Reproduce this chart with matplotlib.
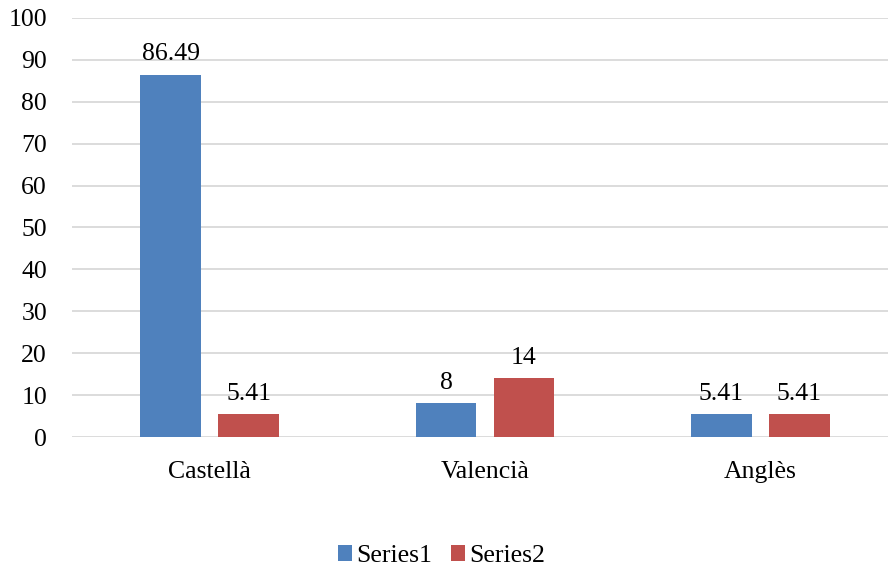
import numpy as np
import matplotlib.pyplot as plt

# data
categories = ['Castellà', 'Valencià', 'Anglès']
series1 = [86.49, 8, 5.41]
series2 = [5.41, 14, 5.41]
labels1 = ['86.49', '8', '5.41']
labels2 = ['5.41', '14', '5.41']

plt.rcParams['font.family'] = ['Liberation Serif', 'DejaVu Serif']
fs = 18.5

fig = plt.figure(figsize=(8.88, 5.69), dpi=100)
ax = fig.add_axes([72/888, 1-437/569, 826/888, (437-18)/569])

x = np.arange(len(categories))
w = 0.221
off = 0.1416
b1 = ax.bar(x - off, series1, w, color='#4f81bd', label='Series1', zorder=3)
b2 = ax.bar(x + off, series2, w, color='#c0504d', label='Series2', zorder=3)

for rect, lab in zip(b1, labels1):
    ax.text(rect.get_x() + rect.get_width()/2, rect.get_height() + 2.3, lab,
            ha='center', va='bottom', fontsize=fs)
for rect, lab in zip(b2, labels2):
    ax.text(rect.get_x() + rect.get_width()/2, rect.get_height() + 2.3, lab,
            ha='center', va='bottom', fontsize=fs)

ax.set_xlim(-0.5, 2.5)
ax.set_ylim(0, 100)
ax.set_yticks(range(0, 101, 10))
ax.set_xticks(x)
ax.set_xticklabels(categories)
ax.tick_params(axis='both', length=0, labelsize=fs)
ax.tick_params(axis='x', pad=17)
ax.tick_params(axis='y', pad=18)
ax.grid(axis='y', color='#d9d9d9', linewidth=1.3, zorder=0)
for s in ax.spines.values():
    s.set_visible(False)

fig.legend(loc='center', bbox_to_anchor=(0.497, 1-556/569), ncol=2, frameon=False,
           fontsize=fs, handlelength=0.55, handleheight=0.55, handletextpad=0.15,
           columnspacing=0.75)

fig.savefig('out.png', dpi=100)
